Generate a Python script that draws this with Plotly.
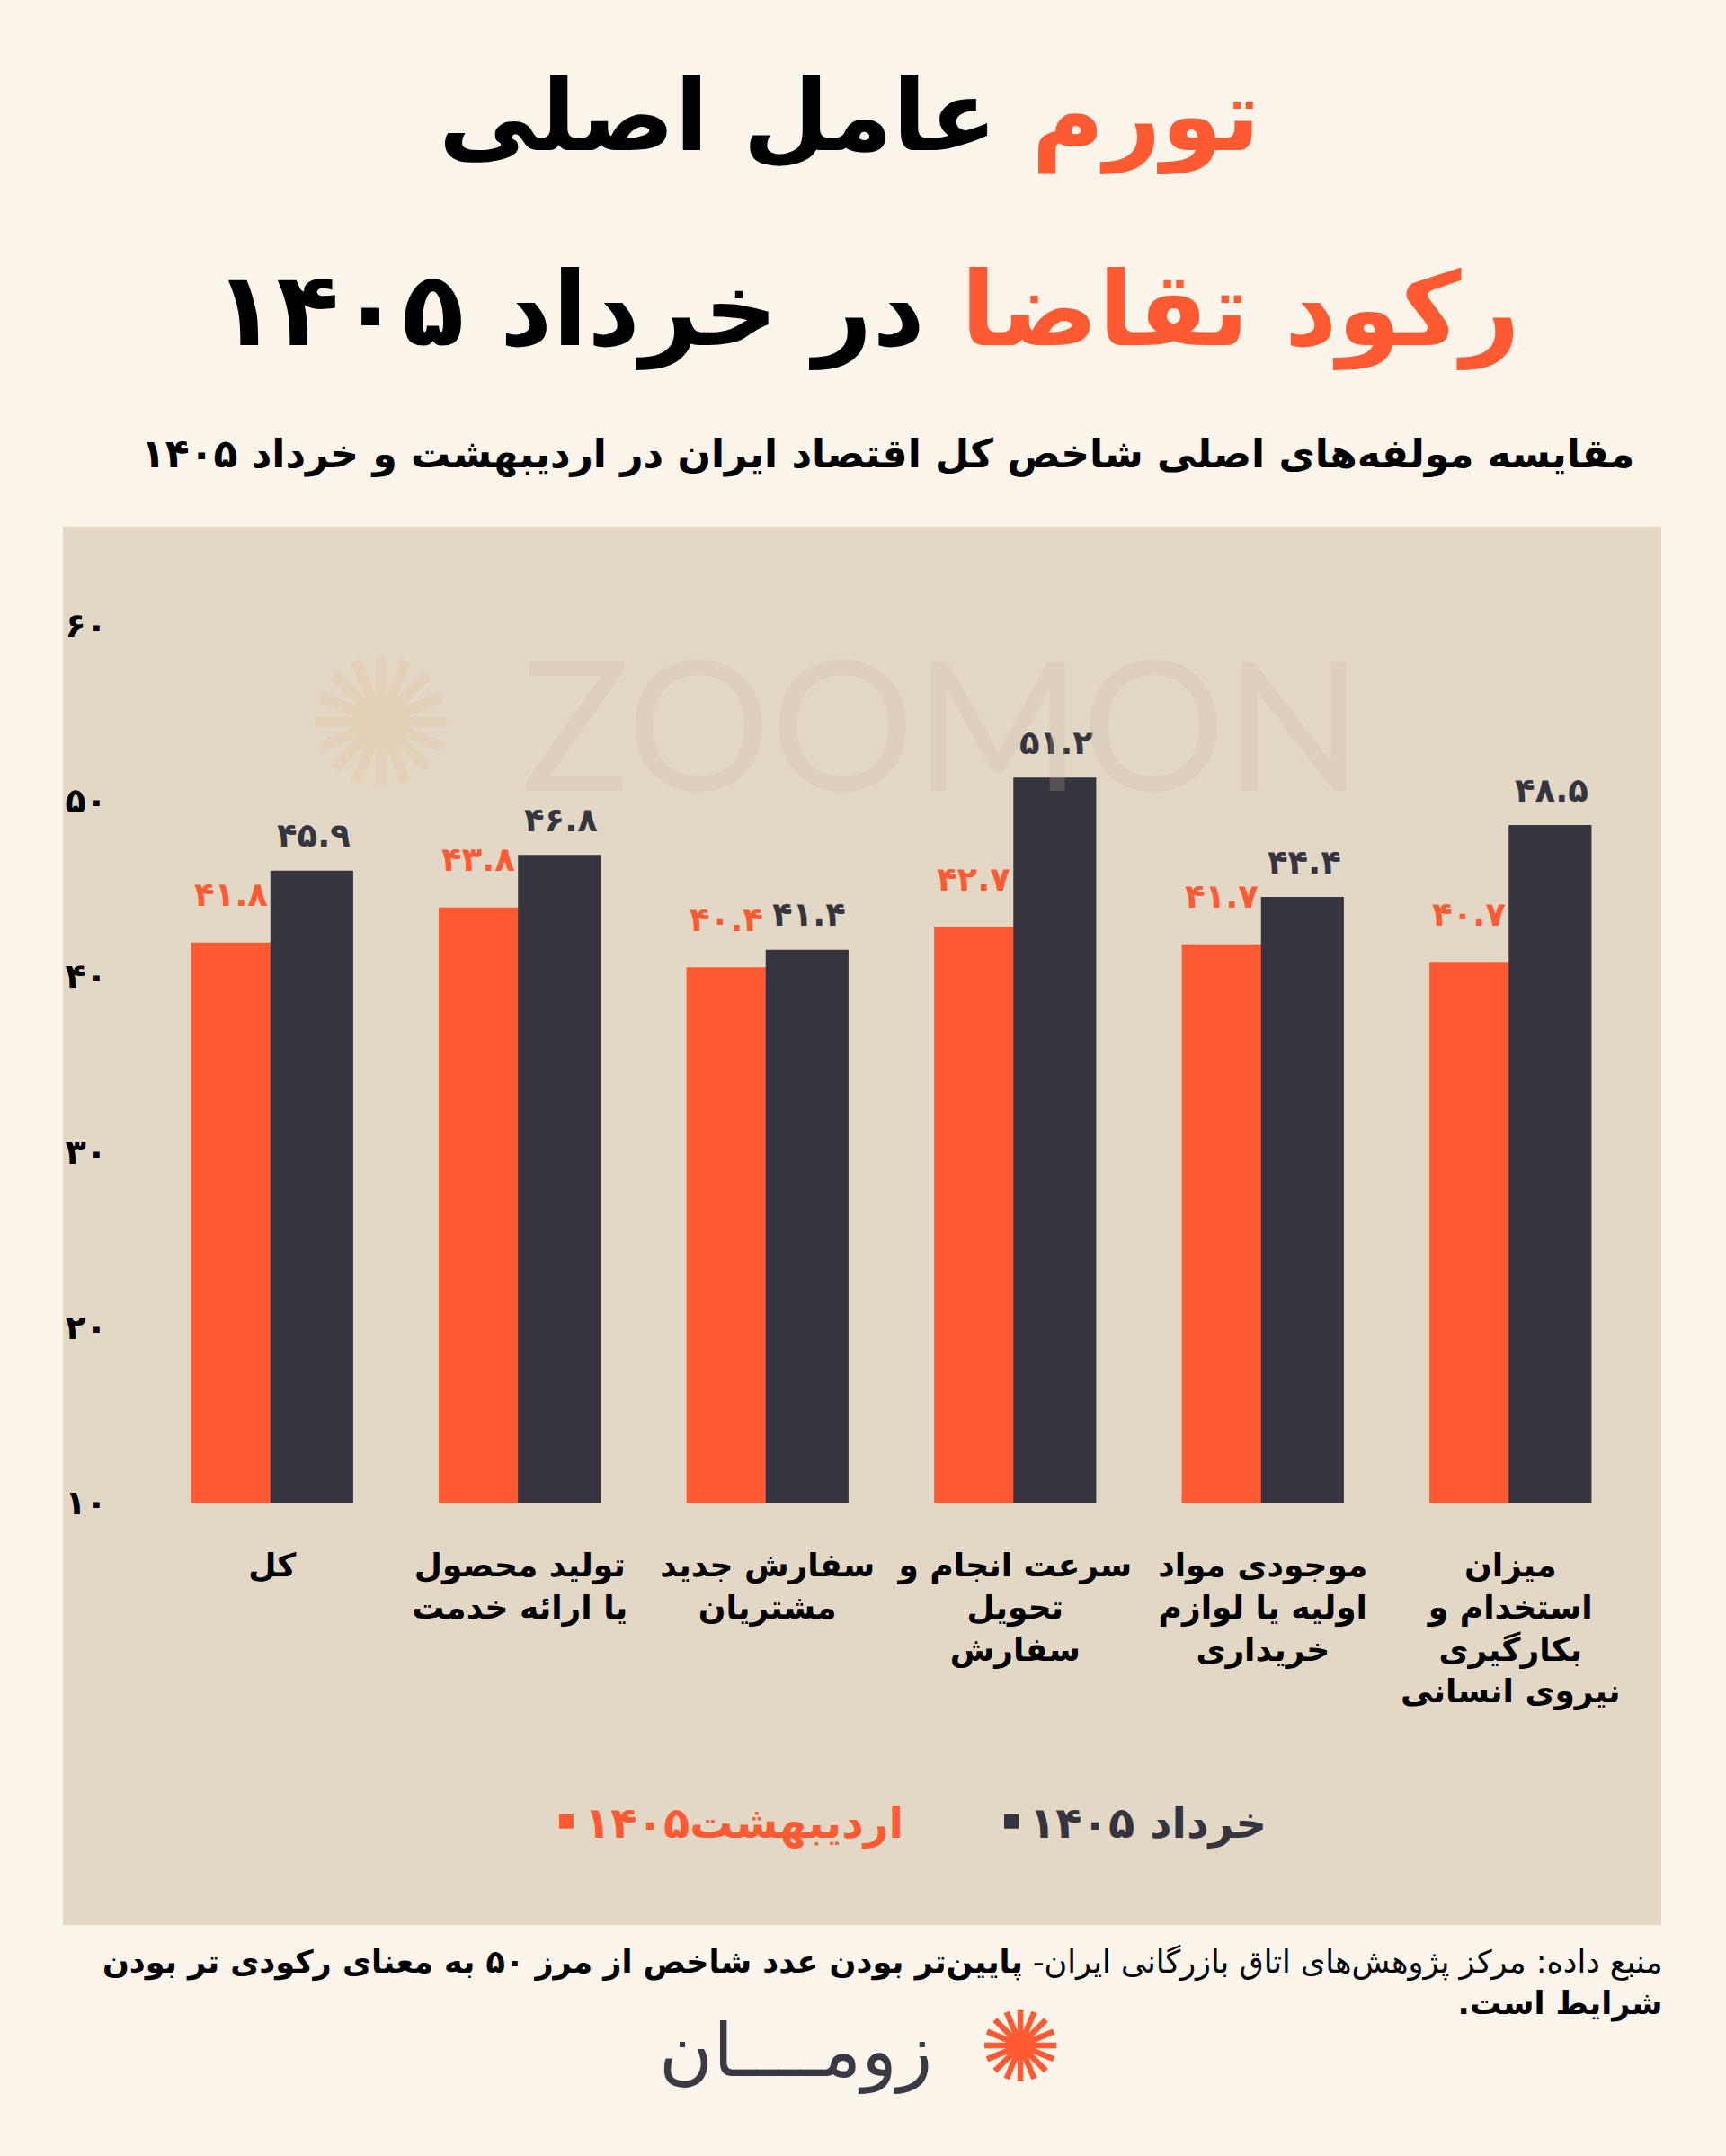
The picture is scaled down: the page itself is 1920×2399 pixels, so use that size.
import plotly.graph_objects as go

# ---------------- data ----------------
categories = [
    "کل",
    "تولید محصول<br>یا ارائه خدمت",
    "سفارش جدید<br>مشتریان",
    "سرعت انجام و<br>تحویل<br>سفارش",
    "موجودی مواد<br>اولیه یا لوازم<br>خریداری",
    "میزان<br>استخدام و<br>بکارگیری<br>نیروی انسانی",
]
ordibehesht = [41.8, 43.8, 40.4, 42.7, 41.7, 40.7]
khordad = [45.9, 46.8, 41.4, 51.2, 44.4, 48.5]
series_names = ["اردیبهشت۱۴۰۵", "خرداد ۱۴۰۵"]
y_ticks = [10, 20, 30, 40, 50, 60]

# ---------------- style ----------------
PAGE_BG = "#FAF4EA"
PANEL_BG = "#E2D8C5"
ORANGE = "#FF5A32"
DARK = "#35353F"
FONT = "DejaVu Sans"
RLM = "\u200f"

W, H = 1920, 2399
L, R, T, B = 165, 1818, 586, 1672


def px(x):
    return (x - L) / (R - L)


def py(y):
    return (B - y) / (B - T)


FA_DIGITS = str.maketrans("0123456789", "۰۱۲۳۴۵۶۷۸۹")


def fa(v):
    return str(v).translate(FA_DIGITS)


fig = go.Figure()
fig.add_trace(go.Bar(
    x=categories, y=[v - 10 for v in ordibehesht], base=10,
    name=f"<b><span style='color:{ORANGE}'>{series_names[0]}</span></b>",
    marker=dict(color=ORANGE, line=dict(width=4, color=ORANGE)),
))
fig.add_trace(go.Bar(
    x=categories, y=[v - 10 for v in khordad], base=10,
    name=f"<b><span style='color:{DARK}'>{series_names[1]}</span></b>",
    marker=dict(color=DARK, line=dict(width=4, color=DARK)),
))

annotations = []
# value labels
for i, c in enumerate(categories):
    annotations.append(dict(x=c, y=ordibehesht[i], xref="x", yref="y", text=f"<b>{fa(ordibehesht[i])}</b>",
                            showarrow=False, xshift=-46, yshift=55, yanchor="middle", borderpad=0,
                            font=dict(family=FONT, size=37, color=ORANGE)))
    annotations.append(dict(x=c, y=khordad[i], xref="x", yref="y", text=f"<b>{fa(khordad[i])}</b>",
                            showarrow=False, xshift=46, yshift=41, yanchor="middle", borderpad=0,
                            font=dict(family=FONT, size=37, color=DARK)))

# titles
annotations.append(dict(xref="paper", yref="paper", x=px(945), y=py(130), xanchor="center", yanchor="middle",
                        showarrow=False,
                        text=f"<b><span style='color:{ORANGE}'>تورم</span> عامل اصلی</b>",
                        font=dict(family=FONT, size=110, color="#000000")))
annotations.append(dict(xref="paper", yref="paper", x=px(964), y=py(345), xanchor="center", yanchor="middle",
                        showarrow=False,
                        text=f"<b><span style='color:{ORANGE}'>رکود تقاضا</span> در خرداد ۱۴۰۵</b>",
                        font=dict(family=FONT, size=114, color="#000000")))
annotations.append(dict(xref="paper", yref="paper", x=px(1820), y=py(505), xanchor="right", yanchor="middle",
                        showarrow=False,
                        text="<b>مقایسه مولفه‌های اصلی شاخص کل اقتصاد ایران در اردیبهشت و خرداد ۱۴۰۵</b>",
                        font=dict(family=FONT, size=44, color="#000000")))
# watermark
annotations.append(dict(xref="paper", yref="paper", x=px(1048), y=py(803), xanchor="center", yanchor="middle",
                        showarrow=False, text="ZOOMON",
                        font=dict(family="Lato", size=200, color="rgba(200,184,160,0.22)")))
annotations.append(dict(xref="paper", yref="paper", x=px(424), y=py(806), xanchor="center", yanchor="middle",
                        showarrow=False, text="✺",
                        font=dict(family=FONT, size=200, color="rgba(235,170,120,0.15)")))
# footer
annotations.append(dict(xref="paper", yref="paper", x=px(1851), y=py(2206), xanchor="right", yanchor="middle",
                        showarrow=False, align="right",
                        text=RLM + "منبع داده: مرکز پژوهش‌های اتاق بازرگانی ایران- <b>پایین‌تر بودن عدد شاخص از مرز ۵۰ به معنای رکودی تر بودن</b>"
                             + RLM + "<br>" + RLM + "<b>شرایط است." + RLM + "</b>",
                        font=dict(family=FONT, size=35, color="#000000")))
annotations.append(dict(xref="paper", yref="paper", x=px(885), y=py(2282), xanchor="center", yanchor="middle",
                        showarrow=False, text="زومــــان",
                        font=dict(family=FONT, size=82, color="#3A3A44")))
annotations.append(dict(xref="paper", yref="paper", x=px(1135), y=py(2278), xanchor="center", yanchor="middle",
                        showarrow=False, text="✺",
                        font=dict(family=FONT, size=110, color=ORANGE)))

fig.update_layout(
    width=W, height=H,
    margin=dict(l=L, r=W - R, t=T, b=H - B),
    paper_bgcolor=PAGE_BG,
    plot_bgcolor="rgba(0,0,0,0)",
    barmode="group",
    bargap=0.36,
    bargroupgap=0,
    showlegend=True,
    legend=dict(orientation="h", x=px(610), y=py(2027), xanchor="left", yanchor="middle",
                font=dict(family=FONT, size=48), bgcolor="rgba(0,0,0,0)", traceorder="normal",
                entrywidth=450),
    annotations=annotations,
    shapes=[dict(type="rect", xref="paper", yref="paper", x0=px(70), x1=px(1848), y0=py(2142), y1=py(586),
                 fillcolor=PANEL_BG, line=dict(width=0), layer="below")],
    xaxis=dict(showgrid=False, zeroline=False, showline=False, ticks="", tickangle=0,
               tickfont=dict(family=FONT, size=36, color="#000000"), ticklabelstandoff=45,
               range=[-0.5, 5.5]),
    yaxis=dict(range=[10, 65.6], showgrid=False, zeroline=False, showline=False, ticks="",
               tickvals=y_ticks, ticktext=[f"<b>{fa(v)}</b>" for v in y_ticks],
               tickfont=dict(family=FONT, size=38, color="#000000"), ticklabelstandoff=45),
    font=dict(family=FONT),
)
fig.update_xaxes(tickvals=categories, ticktext=[f"<b>{c}</b>" for c in categories])

fig.write_html("out.html")
